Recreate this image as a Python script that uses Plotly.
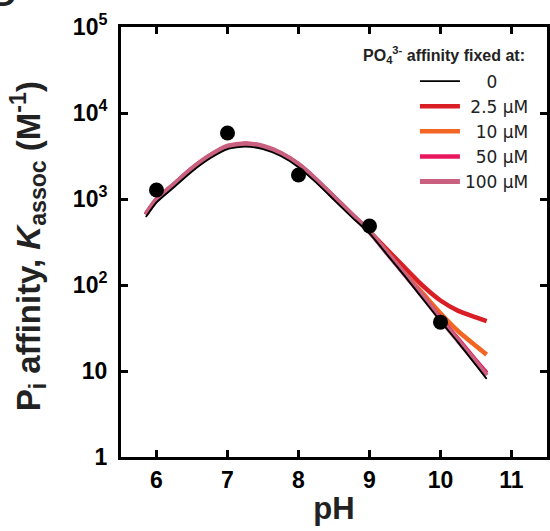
import plotly.graph_objects as go

# --- data ---
ph = [5.85, 6.0, 6.25, 6.5, 6.75, 7.0, 7.25, 7.5, 7.75, 8.0, 8.25, 8.5, 8.75,
      9.0, 9.25, 9.5, 9.75, 10.0, 10.25, 10.5, 10.65]

k_0uM = [617, 912, 1380, 2089, 2951, 3802, 4074, 3802, 3162, 2344, 1549, 977, 617,
         398, 224, 126, 69, 38, 21.4, 11.7, 8.1]
k_2p5uM = [660, 975, 1480, 2240, 3160, 4070, 4360, 4070, 3380, 2510, 1660, 1045, 660,
           417, 257, 158, 98, 66, 50, 42, 38]
k_10uM = [660, 975, 1480, 2240, 3160, 4070, 4360, 4070, 3380, 2510, 1660, 1045, 660,
          417, 240, 135, 80, 47, 29, 19.5, 15.5]
k_50uM = [660, 975, 1480, 2240, 3160, 4070, 4360, 4070, 3380, 2510, 1660, 1045, 660,
          417, 234, 132, 74, 41, 23.4, 13.2, 9.5]
k_100uM = [665, 985, 1490, 2260, 3190, 4110, 4400, 4110, 3410, 2530, 1675, 1055, 665,
           417, 234, 132, 74, 40, 22.4, 12.6, 8.9]

obs_ph = [6, 7, 8, 9, 10]
obs_k = [1270, 5850, 1900, 485, 37]

x_ticks = [6, 7, 8, 9, 10, 11]
y_tickvals = [1, 10, 100, 1000, 10000, 100000]
y_ticktext = ["1", "10", "10<sup>2</sup>", "10<sup>3</sup>", "10<sup>4</sup>", "10<sup>5</sup>"]

NB = "\u00a0"
series = [  # (legend label, values, colour, width, legend rank) in drawing order
    (NB + "2.5" + NB + "µM", k_2p5uM, "#d91e26", 4.5, 2),
    (NB + NB + "10" + NB + "µM", k_10uM, "#f26522", 4.5, 3),
    (NB + NB + "50" + NB + "µM", k_50uM, "#e8175d", 4.5, 4),
    ("100" + NB + "µM", k_100uM, "#c9607f", 5, 5),
    (NB * 4 + "0", k_0uM, "#000000", 1.8, 1),
]

FONT = "Liberation Sans, Arial, Helvetica, sans-serif"

fig = go.Figure()
for name, ys, color, w, rank in series:
    fig.add_trace(go.Scatter(x=ph, y=ys, mode="lines", name=name, legendrank=rank,
                             line=dict(color=color, width=w, shape="spline", smoothing=0.6)))
fig.add_trace(go.Scatter(x=obs_ph, y=obs_k, mode="markers", showlegend=False,
                         marker=dict(color="black", size=15)))

axis_common = dict(showline=True, linewidth=3, linecolor="black", mirror="ticks",
                   ticks="inside", ticklen=7, tickwidth=3, tickcolor="black",
                   showgrid=False, zeroline=False,
                   tickfont=dict(family=FONT, size=23, color="black", weight="bold"))

fig.update_xaxes(range=[5.5, 11.5], tickvals=x_ticks, **axis_common,
                 title=dict(text="<b>pH</b>", font=dict(family=FONT, size=31, color="#222"),
                            standoff=6))
fig.update_yaxes(type="log", range=[0, 5], tickvals=y_tickvals, ticktext=y_ticktext,
                 ticklabelstandoff=6, **axis_common)

fig.add_annotation(text="<b>P<sub>i</sub> affinity, <i>K</i><sub>assoc</sub> (M<sup>-1</sup>)</b>",
                   textangle=-90, xref="paper", yref="paper", x=0, y=0.49,
                   xanchor="center", yanchor="middle", xshift=-93, showarrow=False,
                   font=dict(family=FONT, size=33, color="#222"))

fig.add_annotation(text="<b>PO<sub>4</sub><sup>3-</sup> affinity fixed at:</b>",
                   xref="paper", yref="paper", x=0.953, y=0.935,
                   xanchor="right", yanchor="middle", showarrow=False,
                   font=dict(family=FONT, size=16, color="#222"))

fig.add_annotation(text="<b>D</b>", xref="paper", yref="paper", x=0, y=1,
                   xanchor="right", yanchor="bottom", xshift=-102, yshift=12,
                   showarrow=False, font=dict(family=FONT, size=34, color="#222"))

fig.update_layout(
    width=550, height=531,
    margin=dict(l=121, r=0, t=27, b=74),
    paper_bgcolor="white", plot_bgcolor="white",
    showlegend=True,
    legend=dict(traceorder="normal", x=0.69, y=0.915, xanchor="left", yanchor="top",
                bgcolor="rgba(0,0,0,0)", borderwidth=0, itemwidth=40,
                font=dict(family="DejaVu Sans, sans-serif", size=17, color="#222"),
                tracegroupgap=0),
)

fig.write_html("out.html")
